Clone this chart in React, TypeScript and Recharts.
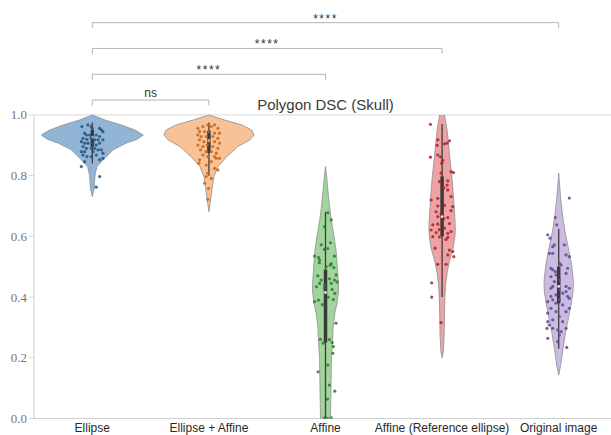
import React from "react";
import { ScatterChart, Scatter, XAxis, YAxis, ReferenceLine } from "recharts";

const CATEGORIES = [
  "Ellipse",
  "Ellipse + Affine",
  "Affine",
  "Affine (Reference ellipse)",
  "Original image",
];
const Y_TICKS = [0, 0.2, 0.4, 0.6, 0.8, 1.0];

// violin outlines: [DSC value, half width in category units]
const ELLIPSE_VIOLIN: [number, number][] = [
  [1.0, 0], [0.983, 0.111], [0.967, 0.249], [0.95, 0.368], [0.934, 0.437],
  [0.92, 0.386], [0.907, 0.291], [0.885, 0.18], [0.852, 0.094], [0.83, 0.04],
  [0.8, 0.023], [0.76, 0.017], [0.731, 0],
];
const ELLIPSE_AFFINE_VIOLIN: [number, number][] = [
  [1.0, 0], [0.983, 0.137], [0.967, 0.283], [0.95, 0.368], [0.934, 0.386],
  [0.918, 0.351], [0.896, 0.248], [0.863, 0.154], [0.83, 0.077], [0.797, 0.043],
  [0.753, 0.026], [0.681, 0],
];
const AFFINE_VIOLIN: [number, number][] = [
  [0.83, 0], [0.8, 0.009], [0.75, 0.021], [0.7, 0.034], [0.65, 0.051],
  [0.6, 0.073], [0.55, 0.092], [0.5, 0.101], [0.45, 0.11], [0.42, 0.111],
  [0.38, 0.099], [0.35, 0.081], [0.3, 0.065], [0.25, 0.06], [0.2, 0.051],
  [0.15, 0.049], [0.1, 0.047], [0.0, 0.043],
];
const AFFINE_REF_VIOLIN: [number, number][] = [
  [1.0, 0.021], [0.95, 0.043], [0.9, 0.056], [0.85, 0.069], [0.8, 0.083],
  [0.75, 0.094], [0.7, 0.103], [0.65, 0.111], [0.62, 0.113], [0.6, 0.11],
  [0.56, 0.094], [0.52, 0.064], [0.48, 0.043], [0.44, 0.03], [0.4, 0.024],
  [0.33, 0.02], [0.27, 0.017], [0.22, 0.01], [0.2, 0],
];
const ORIGINAL_VIOLIN: [number, number][] = [
  [0.808, 0], [0.725, 0.017], [0.67, 0.032], [0.616, 0.054], [0.561, 0.083],
  [0.506, 0.111], [0.451, 0.126], [0.418, 0.123], [0.374, 0.105], [0.33, 0.083],
  [0.286, 0.06], [0.231, 0.037], [0.176, 0.017], [0.143, 0],
];

// inner box: [whisker low, q1, median, q3, whisker high]
const ELLIPSE_BOX = [0.84, 0.895, 0.925, 0.95, 0.975];
const ELLIPSE_AFFINE_BOX = [0.8, 0.875, 0.915, 0.948, 0.975];
const AFFINE_BOX = [0.0, 0.25, 0.415, 0.49, 0.68];
const AFFINE_REF_BOX = [0.4, 0.6, 0.665, 0.797, 0.97];
const ORIGINAL_BOX = [0.23, 0.38, 0.435, 0.5, 0.625];

// strip points: [jitter offset, DSC value]
const ELLIPSE_POINTS: [number, number][] = [
  [-0.089, 0.962], [-0.037, 0.967], [-0.009, 0.962], [0, 0.956], [0.063, 0.956],
  [0.077, 0.951], [0.091, 0.945], [-0.066, 0.94], [-0.051, 0.934], [-0.023, 0.934],
  [0.034, 0.934], [0.063, 0.929], [-0.08, 0.923], [-0.046, 0.92], [-0.009, 0.923],
  [0.02, 0.918], [0.049, 0.918], [0.091, 0.918], [-0.094, 0.912], [-0.066, 0.907],
  [-0.037, 0.907], [0.006, 0.907], [0.034, 0.901], [0.063, 0.907], [-0.08, 0.896],
  [-0.051, 0.89], [-0.009, 0.89], [0.02, 0.89], [0.049, 0.885], [0.077, 0.885],
  [-0.094, 0.879], [-0.066, 0.879], [0.006, 0.879], [0.091, 0.874], [-0.08, 0.868],
  [0.034, 0.868], [-0.046, 0.863], [-0.009, 0.863], [0.091, 0.857], [-0.066, 0.846],
  [0.063, 0.852], [-0.094, 0.83], [0.063, 0.797], [0.034, 0.762],
];
const ELLIPSE_AFFINE_POINTS: [number, number][] = [
  [-0.094, 0.956], [-0.051, 0.962], [-0.009, 0.967], [0.02, 0.962], [0.049, 0.967],
  [0.077, 0.956], [-0.08, 0.945], [-0.037, 0.945], [0.006, 0.945], [0.049, 0.94],
  [0.091, 0.94], [-0.094, 0.934], [-0.066, 0.929], [-0.023, 0.929], [0.034, 0.929],
  [0.077, 0.923], [-0.08, 0.918], [-0.043, 0.912], [0.006, 0.912], [0.049, 0.912],
  [0.091, 0.907], [-0.094, 0.901], [-0.051, 0.896], [-0.014, 0.901], [0.034, 0.896],
  [0.077, 0.89], [-0.071, 0.885], [-0.023, 0.879], [0.02, 0.879], [0.063, 0.874],
  [-0.051, 0.868], [-0.009, 0.863], [0.049, 0.863], [0.091, 0.857], [-0.08, 0.852],
  [0.02, 0.846], [0.063, 0.857], [-0.086, 0.841], [-0.023, 0.835], [0.049, 0.824],
  [0.077, 0.819], [-0.009, 0.808], [-0.023, 0.797], [0.02, 0.791], [-0.037, 0.775],
  [-0.003, 0.758], [-0.009, 0.722],
];
const AFFINE_POINTS: [number, number][] = [
  [0.02, 0.678], [0.049, 0.654], [-0.009, 0.632], [-0.037, 0.572], [0.043, 0.579],
  [-0.094, 0.535], [-0.06, 0.53], [-0.009, 0.557], [0.02, 0.56], [0.077, 0.535],
  [-0.051, 0.522], [0.049, 0.51], [0.006, 0.5], [0.071, 0.497], [0.091, 0.473],
  [-0.066, 0.47], [-0.037, 0.456], [0.034, 0.46], [0.077, 0.456], [-0.051, 0.445],
  [-0.009, 0.44], [0.049, 0.445], [0.1, 0.45], [-0.053, 0.513], [0.04, 0.505],
  [-0.077, 0.434], [-0.01, 0.43], [0.057, 0.425], [0.08, 0.412], [-0.094, 0.385],
  [-0.06, 0.39], [0.023, 0.4], [0.067, 0.392], [-0.027, 0.375], [0.09, 0.314],
  [-0.044, 0.261], [0.033, 0.26], [0.057, 0.25], [-0.02, 0.248], [0.067, 0.237],
  [0.063, 0.215], [0.02, 0.176], [-0.063, 0.154], [0.033, 0.11], [0.08, 0.09],
  [0.017, 0.064], [0.0, 0.003], [0.02, 0.0], [0.05, 0.002], [-0.01, 0.001],
];
const AFFINE_REF_POINTS: [number, number][] = [
  [-0.1, 0.969], [-0.037, 0.918], [0.043, 0.907], [0.063, 0.915], [0.02, 0.905],
  [-0.043, 0.9], [-0.1, 0.861], [-0.037, 0.868], [-0.014, 0.862], [-0.003, 0.841],
  [0.006, 0.85], [0.077, 0.813], [0.097, 0.81], [-0.009, 0.808], [-0.023, 0.78],
  [0.049, 0.783], [0.043, 0.769], [0.014, 0.76], [0.049, 0.753], [-0.094, 0.72],
  [-0.037, 0.725], [0.077, 0.731], [0.091, 0.698], [-0.037, 0.7], [0.02, 0.702],
  [-0.051, 0.681], [0.077, 0.685], [-0.009, 0.675], [-0.037, 0.665], [0.049, 0.662],
  [0.014, 0.658], [-0.08, 0.638], [-0.037, 0.64], [0.063, 0.642], [-0.094, 0.621],
  [-0.023, 0.622], [0.02, 0.627], [0.077, 0.616], [-0.051, 0.612], [0.049, 0.61],
  [-0.08, 0.599], [-0.023, 0.598], [0.034, 0.59], [0.049, 0.597], [0.063, 0.555],
  [0.091, 0.55], [0.1, 0.533], [-0.06, 0.561], [0.049, 0.539], [-0.037, 0.508],
  [0.034, 0.508], [-0.089, 0.447], [-0.089, 0.4], [-0.009, 0.316],
];
const ORIGINAL_POINTS: [number, number][] = [
  [0.091, 0.726], [-0.029, 0.662], [-0.017, 0.638], [-0.094, 0.605], [-0.074, 0.594],
  [-0.037, 0.572], [-0.051, 0.566], [0.049, 0.572], [-0.08, 0.544], [-0.051, 0.544],
  [0.063, 0.539], [0.091, 0.533], [0.006, 0.511], [-0.066, 0.495], [-0.051, 0.49],
  [-0.029, 0.484], [0.02, 0.506], [0.077, 0.495], [0.063, 0.478], [-0.023, 0.473],
  [-0.066, 0.467], [0.006, 0.456], [-0.037, 0.451], [-0.051, 0.435], [0.063, 0.435],
  [0.091, 0.429], [-0.066, 0.429], [0.006, 0.424], [0.063, 0.418], [-0.023, 0.407],
  [-0.066, 0.402], [0.034, 0.413], [0.077, 0.402], [0.091, 0.396], [-0.051, 0.391],
  [0.006, 0.391], [-0.094, 0.385], [-0.023, 0.38], [0.034, 0.374], [-0.066, 0.363],
  [0.063, 0.352], [0.091, 0.363], [-0.094, 0.347], [-0.023, 0.352], [0.006, 0.336],
  [-0.051, 0.325], [-0.094, 0.319], [-0.08, 0.308], [0.034, 0.319], [-0.051, 0.297],
  [-0.1, 0.297], [-0.009, 0.292], [0.02, 0.286], [0.063, 0.297], [-0.094, 0.264],
  [0.006, 0.275], [-0.009, 0.253], [0.069, 0.234],
];

// significance brackets: [from, to, label]
const PAIRS: [number, number, string][] = [
  [0, 1, "ns"],
  [0, 2, "****"],
  [0, 3, "****"],
  [0, 4, "****"],
];

const VIOLINS = [ELLIPSE_VIOLIN, ELLIPSE_AFFINE_VIOLIN, AFFINE_VIOLIN, AFFINE_REF_VIOLIN, ORIGINAL_VIOLIN];
const BOXES = [ELLIPSE_BOX, ELLIPSE_AFFINE_BOX, AFFINE_BOX, AFFINE_REF_BOX, ORIGINAL_BOX];
const POINTS = [ELLIPSE_POINTS, ELLIPSE_AFFINE_POINTS, AFFINE_POINTS, AFFINE_REF_POINTS, ORIGINAL_POINTS];

const FILLS = ["#92b5d6", "#f8c196", "#a2d49d", "#eda2a4", "#cbbbe2"];
const DOTS = ["#23527d", "#c76519", "#2a7a2d", "#ad2029", "#5e4a8c"];

const W = 620;
const H = 435;
const Y_MAX = 1.349;
const BRACKET_BASE = 1.049;
const BRACKET_STEP = 0.085;
const BRACKET_DROP = 0.018;

const SANS = "'Liberation Sans', Arial, sans-serif";
const SERIF = "'Liberation Serif', 'Times New Roman', serif";

const violinPolygon = (shape: [number, number][], i: number) => [
  ...shape.map(([v, w]) => ({ x: i + w, y: v })),
  ...[...shape].reverse().map(([v, w]) => ({ x: i - w, y: v })),
];

const noShape = () => <g />;

const XTick = ({ x, y, payload }: any) => (
  <text x={x} y={y + 13.5} textAnchor="middle" fontFamily={SANS} fontSize={12} fill="#2a2a2a">
    {CATEGORIES[payload.value]}
  </text>
);

const YTick = ({ x, y, payload }: any) => (
  <text x={x} y={y + 4.5} textAnchor="end" fontFamily={SERIF} fontSize={13} fill="#777">
    {payload.value.toFixed(1)}
  </text>
);

export default function App() {
  return (
    <div style={{ position: "relative", width: 611, height: H, overflow: "hidden" }}>
      <style>{"body{margin:0}"}</style>
      <div
        style={{
          position: "absolute",
          left: 34,
          width: 583,
          top: 96,
          textAlign: "center",
          fontFamily: SANS,
          fontSize: 15,
          color: "#3a3a3a",
          zIndex: 1,
        }}
      >
        Polygon DSC (Skull)
      </div>
      <ScatterChart width={W} height={H} margin={{ top: 9, right: 3, bottom: 0, left: 0 }}>
        <XAxis
          type="number"
          dataKey="x"
          domain={[-0.5, 4.5]}
          allowDataOverflow
          ticks={[0, 1, 2, 3, 4]}
          interval={0}
          height={16.5}
          tickLine={false}
          tickSize={0}
          tickMargin={0}
          axisLine={{ stroke: "#cfcfcf" }}
          tick={<XTick />}
        />
        <YAxis
          type="number"
          dataKey="y"
          domain={[0, Y_MAX]}
          allowDataOverflow
          ticks={Y_TICKS}
          interval={0}
          width={34}
          axisLine={false}
          tickLine={{ stroke: "#d5d5d5" }}
          tickSize={5}
          tickMargin={2}
          tick={<YTick />}
        />
        <ReferenceLine
          segment={[{ x: -0.5, y: 0 }, { x: -0.5, y: 1 }]}
          stroke="#cfcfcf"
          ifOverflow="visible"
        />
        <ReferenceLine
          segment={[{ x: -0.5, y: 1 }, { x: 4.5, y: 1 }]}
          stroke="#d8d8d8"
          ifOverflow="visible"
        />

        {VIOLINS.map((shape, i) => (
          <Scatter
            key={`violin-${i}`}
            data={violinPolygon(shape, i)}
            line={{ fill: FILLS[i], stroke: "#8e8e8e", strokeWidth: 0.8 }}
            shape={noShape}
            isAnimationActive={false}
          />
        ))}

        {BOXES.map((b, i) => (
          <Scatter
            key={`whisker-${i}`}
            data={[{ x: i, y: b[0] }, { x: i, y: b[4] }]}
            line={{ stroke: "#3d3d3d", strokeWidth: 1.3 }}
            shape={noShape}
            isAnimationActive={false}
          />
        ))}
        {BOXES.map((b, i) => (
          <Scatter
            key={`iqr-${i}`}
            data={[{ x: i, y: b[1] }, { x: i, y: b[3] }]}
            line={{ stroke: "#3a3a3a", strokeWidth: 3.5 }}
            shape={noShape}
            isAnimationActive={false}
          />
        ))}
        {BOXES.map((b, i) => (
          <Scatter
            key={`median-${i}`}
            data={[{ x: i, y: b[2] }]}
            shape={(p: any) => <circle cx={p.cx} cy={p.cy} r={1.4} fill="#e8e8e8" />}
            isAnimationActive={false}
          />
        ))}

        {POINTS.map((pts, i) => (
          <Scatter
            key={`strip-${i}`}
            data={pts.map(([dx, v]) => ({ x: i + dx, y: v }))}
            shape={(p: any) => (
              <circle cx={p.cx} cy={p.cy} r={1.6} fill={DOTS[i]} fillOpacity={0.85} />
            )}
            isAnimationActive={false}
          />
        ))}

        {PAIRS.map(([a, b], k) => {
          const top = BRACKET_BASE + k * BRACKET_STEP;
          return (
            <Scatter
              key={`bracket-${k}`}
              data={[
                { x: a, y: top - BRACKET_DROP },
                { x: a, y: top },
                { x: b, y: top },
                { x: b, y: top - BRACKET_DROP },
              ]}
              line={{ stroke: "#b4b4b4", strokeWidth: 1 }}
              shape={noShape}
              isAnimationActive={false}
            />
          );
        })}
        {PAIRS.map(([a, b, label], k) => (
          <Scatter
            key={`bracket-label-${k}`}
            data={[{ x: (a + b) / 2, y: BRACKET_BASE + k * BRACKET_STEP }]}
            shape={(p: any) => (
              <text
                x={p.cx}
                y={p.cy - (label === "ns" ? 3 : 0)}
                textAnchor="middle"
                fontFamily={SANS}
                fontSize={12}
                letterSpacing={label === "ns" ? 0 : 1.5}
                fill="#333"
              >
                {label}
              </text>
            )}
            isAnimationActive={false}
          />
        ))}
      </ScatterChart>
    </div>
  );
}
